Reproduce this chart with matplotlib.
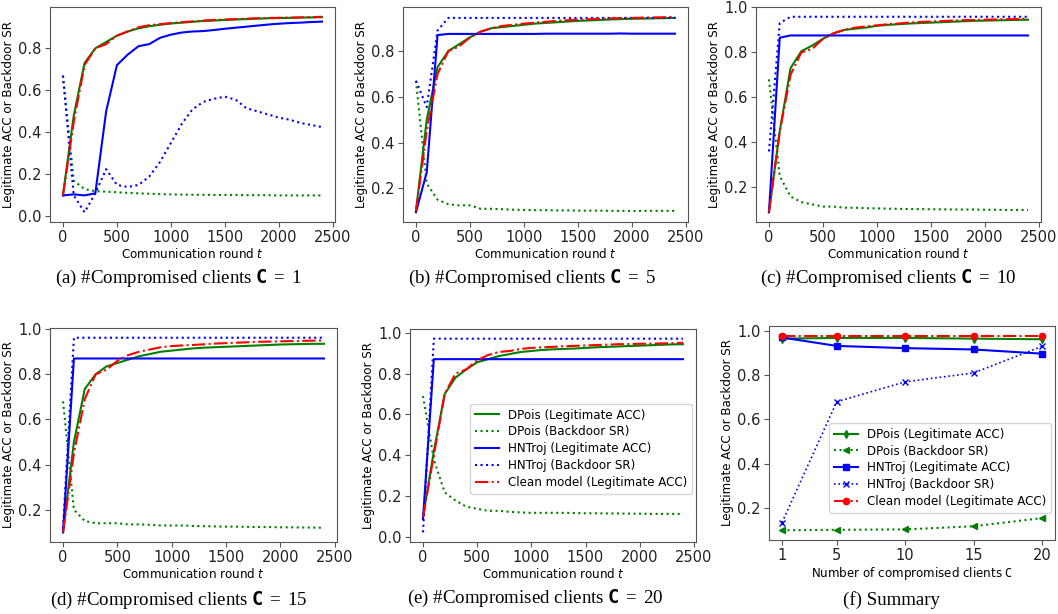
import matplotlib
matplotlib.use("Agg")
from matplotlib import pyplot as plt

plt.rcParams["font.family"] = ["DejaVu Sans"]
plt.rcParams["mathtext.fontset"] = "dejavusans"
plt.rcParams["mathtext.rm"] = "Liberation Serif"
plt.rcParams["mathtext.tt"] = "DejaVu Sans Mono:bold"

W, H = 1058, 614

rounds = [0, 100, 200, 300, 400, 500, 600, 700, 800, 900, 1000, 1100, 1200,
          1300, 1400, 1500, 1600, 1700, 1800, 1900, 2000, 2100, 2200, 2300, 2400]

# (a) C = 1
a_dp_acc = [0.10, 0.48, 0.73, 0.80, 0.83, 0.86, 0.88, 0.895, 0.905, 0.912, 0.918, 0.922, 0.926,
            0.93, 0.932, 0.935, 0.937, 0.939, 0.941, 0.943, 0.944, 0.945, 0.946, 0.947, 0.948]
a_dp_bd = [0.67, 0.17, 0.13, 0.12, 0.118, 0.115, 0.112, 0.11, 0.108, 0.106, 0.105, 0.104, 0.103,
           0.103, 0.102, 0.102, 0.102, 0.101, 0.101, 0.101, 0.10, 0.10, 0.10, 0.10, 0.10]
a_hn_acc = [0.10, 0.105, 0.10, 0.11, 0.50, 0.72, 0.77, 0.81, 0.82, 0.85, 0.865, 0.875, 0.88,
            0.882, 0.887, 0.893, 0.898, 0.903, 0.908, 0.913, 0.917, 0.92, 0.922, 0.925, 0.927]
a_hn_bd = [0.67, 0.10, 0.02, 0.11, 0.225, 0.15, 0.14, 0.15, 0.19, 0.26, 0.35, 0.44, 0.51,
           0.545, 0.56, 0.57, 0.555, 0.515, 0.50, 0.485, 0.47, 0.46, 0.445, 0.435, 0.425]
a_clean = [0.10, 0.45, 0.72, 0.80, 0.82, 0.86, 0.88, 0.90, 0.91, 0.915, 0.92, 0.924, 0.928,
           0.932, 0.935, 0.937, 0.939, 0.941, 0.943, 0.944, 0.945, 0.946, 0.947, 0.948, 0.95]

# (b) C = 5
b_dp_acc = [0.10, 0.50, 0.73, 0.80, 0.83, 0.86, 0.885, 0.90, 0.905, 0.91, 0.915, 0.92, 0.923,
            0.926, 0.929, 0.932, 0.934, 0.936, 0.938, 0.94, 0.941, 0.942, 0.943, 0.944, 0.945]
b_dp_bd = [0.67, 0.22, 0.15, 0.13, 0.125, 0.125, 0.11, 0.11, 0.108, 0.106, 0.105, 0.104, 0.104,
           0.103, 0.103, 0.102, 0.102, 0.102, 0.101, 0.101, 0.10, 0.101, 0.101, 0.101, 0.101]
b_hn_acc = [0.095, 0.27, 0.87, 0.875, 0.875, 0.875, 0.875, 0.875, 0.875, 0.875, 0.875, 0.875, 0.876,
            0.876, 0.876, 0.876, 0.876, 0.876, 0.876, 0.877, 0.876, 0.876, 0.876, 0.876, 0.876]
b_hn_bd = [0.67, 0.555, 0.89, 0.945, 0.945, 0.945, 0.945, 0.945, 0.945, 0.945, 0.945, 0.945, 0.945,
           0.945, 0.945, 0.945, 0.945, 0.945, 0.945, 0.945, 0.945, 0.945, 0.945, 0.945, 0.945]
b_clean = [0.10, 0.45, 0.70, 0.80, 0.82, 0.86, 0.885, 0.90, 0.91, 0.915, 0.92, 0.924, 0.928,
           0.932, 0.935, 0.937, 0.939, 0.941, 0.943, 0.944, 0.945, 0.946, 0.947, 0.948, 0.95]

# (c) C = 10
c_dp_acc = [0.09, 0.45, 0.73, 0.805, 0.83, 0.86, 0.885, 0.90, 0.905, 0.91, 0.918, 0.922, 0.925,
            0.928, 0.93, 0.932, 0.934, 0.936, 0.938, 0.94, 0.941, 0.942, 0.943, 0.944, 0.945]
c_dp_bd = [0.68, 0.25, 0.16, 0.135, 0.125, 0.115, 0.115, 0.11, 0.11, 0.108, 0.107, 0.106, 0.105,
           0.104, 0.104, 0.103, 0.103, 0.102, 0.102, 0.102, 0.101, 0.101, 0.10, 0.10, 0.10]
c_hn_acc = [0.09, 0.865, 0.875, 0.875, 0.875, 0.875, 0.875, 0.875, 0.875, 0.875, 0.875, 0.875, 0.875,
            0.875, 0.875, 0.875, 0.875, 0.875, 0.875, 0.875, 0.875, 0.875, 0.875, 0.875, 0.875]
c_hn_bd = [0.36, 0.93, 0.958, 0.958, 0.958, 0.958, 0.958, 0.958, 0.958, 0.958, 0.958, 0.958, 0.958,
           0.958, 0.958, 0.958, 0.958, 0.958, 0.958, 0.958, 0.958, 0.958, 0.958, 0.958, 0.958]
c_clean = [0.09, 0.45, 0.70, 0.80, 0.815, 0.86, 0.885, 0.90, 0.91, 0.915, 0.92, 0.925, 0.928,
           0.932, 0.935, 0.937, 0.939, 0.941, 0.943, 0.944, 0.945, 0.946, 0.947, 0.948, 0.95]

# (d) C = 15
d_dp_acc = [0.10, 0.50, 0.735, 0.80, 0.835, 0.85, 0.865, 0.88, 0.89, 0.90, 0.905, 0.91, 0.915,
            0.918, 0.92, 0.922, 0.924, 0.926, 0.928, 0.93, 0.932, 0.933, 0.934, 0.935, 0.935]
d_dp_bd = [0.68, 0.20, 0.15, 0.14, 0.14, 0.14, 0.135, 0.135, 0.133, 0.13, 0.13, 0.13, 0.128,
           0.127, 0.126, 0.125, 0.125, 0.124, 0.123, 0.123, 0.122, 0.122, 0.121, 0.121, 0.12]
d_hn_acc = [0.10, 0.87, 0.87, 0.87, 0.87, 0.87, 0.87, 0.87, 0.87, 0.87, 0.87, 0.87, 0.87,
            0.87, 0.87, 0.87, 0.87, 0.87, 0.87, 0.87, 0.87, 0.87, 0.87, 0.87, 0.87]
d_hn_bd = [0.12, 0.962, 0.962, 0.962, 0.962, 0.962, 0.962, 0.962, 0.962, 0.962, 0.962, 0.962, 0.962,
           0.962, 0.962, 0.962, 0.962, 0.962, 0.962, 0.962, 0.962, 0.962, 0.962, 0.962, 0.962]
d_clean = [0.10, 0.45, 0.69, 0.80, 0.82, 0.86, 0.885, 0.90, 0.91, 0.92, 0.925, 0.928, 0.93,
           0.933, 0.936, 0.938, 0.94, 0.942, 0.944, 0.945, 0.946, 0.947, 0.948, 0.949, 0.95]

# (e) C = 20
e_dp_acc = [0.10, 0.42, 0.70, 0.78, 0.82, 0.855, 0.87, 0.885, 0.895, 0.905, 0.91, 0.915, 0.918,
            0.92, 0.922, 0.925, 0.928, 0.93, 0.932, 0.934, 0.936, 0.938, 0.94, 0.942, 0.943]
e_dp_bd = [0.69, 0.38, 0.22, 0.18, 0.15, 0.14, 0.13, 0.13, 0.125, 0.122, 0.12, 0.12, 0.12,
           0.12, 0.119, 0.118, 0.118, 0.117, 0.117, 0.116, 0.116, 0.115, 0.115, 0.115, 0.114]
e_hn_acc = [0.09, 0.87, 0.87, 0.87, 0.87, 0.87, 0.87, 0.87, 0.87, 0.87, 0.87, 0.87, 0.87,
            0.87, 0.87, 0.87, 0.87, 0.87, 0.87, 0.87, 0.87, 0.87, 0.87, 0.87, 0.87]
e_hn_bd = [0.025, 0.97, 0.97, 0.97, 0.97, 0.97, 0.97, 0.97, 0.97, 0.97, 0.97, 0.97, 0.97,
           0.97, 0.97, 0.97, 0.97, 0.97, 0.97, 0.97, 0.97, 0.97, 0.97, 0.97, 0.97]
e_clean = [0.10, 0.40, 0.70, 0.80, 0.82, 0.865, 0.89, 0.905, 0.91, 0.92, 0.925, 0.928, 0.93,
           0.933, 0.935, 0.937, 0.939, 0.941, 0.943, 0.944, 0.945, 0.946, 0.947, 0.948, 0.95]

# (f) summary
n_clients = [1, 5, 10, 15, 20]
f_dp_acc = [0.965, 0.968, 0.968, 0.965, 0.962]
f_dp_bd = [0.10, 0.102, 0.104, 0.118, 0.155]
f_hn_acc = [0.97, 0.932, 0.922, 0.916, 0.897]
f_hn_bd = [0.135, 0.68, 0.77, 0.81, 0.93]
f_clean = [0.978, 0.978, 0.978, 0.978, 0.978]

labels = ["DPois (Legitimate ACC)", "DPois (Backdoor SR)", "HNTroj (Legitimate ACC)",
          "HNTroj (Backdoor SR)", "Clean model (Legitimate ACC)"]

panels = [
    ((50, 7, 335, 222), (a_dp_acc, a_dp_bd, a_hn_acc, a_hn_bd, a_clean),
     "(a) #Compromised clients $\\mathtt{C}\\,=\\,1$", (178, 278)),
    ((403, 7, 688, 222), (b_dp_acc, b_dp_bd, b_hn_acc, b_hn_bd, b_clean),
     "(b) #Compromised clients $\\mathtt{C}\\,=\\,5$", (532, 278)),
    ((756, 7, 1041, 222), (c_dp_acc, c_dp_bd, c_hn_acc, c_hn_bd, c_clean),
     "(c) #Compromised clients $\\mathtt{C}\\,=\\,10$", (888, 278)),
    ((50, 328, 337, 542), (d_dp_acc, d_dp_bd, d_hn_acc, d_hn_bd, d_clean),
     "(d) #Compromised clients $\\mathtt{C}\\,=\\,15$", (179, 600)),
    ((410, 329, 696, 542), (e_dp_acc, e_dp_bd, e_hn_acc, e_hn_bd, e_clean),
     "(e) #Compromised clients $\\mathtt{C}\\,=\\,20$", (535, 598)),
]

styles = [("green", "-"), ("green", ":"), ("blue", "-"), ("blue", ":"), ("red", "-.")]


def box(x0, y0, x1, y1):
    return [x0 / W, 1 - y1 / H, (x1 - x0) / W, (y1 - y0) / H]


def style_axes(ax):
    for s in ax.spines.values():
        s.set_color("#555555")
    ax.tick_params(labelsize=10.5, colors="#222222", color="#555555", pad=2.5)
    ax.set_ylabel("Legitimate ACC or Backdoor SR", fontsize=8.6, labelpad=2)


def add_legend(ax, y):
    ax.legend(loc="lower right", bbox_to_anchor=(1.0, y), fontsize=8.6,
              framealpha=0.8, borderaxespad=0.3, labelspacing=0.32, borderpad=0.4)


fig = plt.figure(figsize=(W / 100, H / 100), dpi=100)

for i, (pos, series, cap, cpos) in enumerate(panels):
    ax = fig.add_axes(box(*pos))
    for ys, (col, ls), lab in zip(series, styles, labels):
        ax.plot(rounds, ys, color=col, linestyle=ls, linewidth=1.5, label=lab)
    style_axes(ax)
    ax.set_xlabel("Communication round $t$", fontsize=8.6, labelpad=1)
    ax.set_xticks([0, 500, 1000, 1500, 2000, 2500])
    if i == 4:
        add_legend(ax, 0.21)
    fig.text(cpos[0] / W, 1 - cpos[1] / H, cap, ha="center", va="center",
             fontsize=13.6, family="Liberation Serif", math_fontfamily="custom")

# summary panel
ax = fig.add_axes(box(769, 326, 1055, 540))
ax.plot(n_clients, f_dp_acc, color="green", linestyle="-", marker="d", markersize=4, linewidth=1.5, label=labels[0])
ax.plot(n_clients, f_dp_bd, color="green", linestyle=":", marker="<", markersize=4, linewidth=1.5, label=labels[1])
ax.plot(n_clients, f_hn_acc, color="blue", linestyle="-", marker="s", markersize=4, linewidth=1.5, label=labels[2])
ax.plot(n_clients, f_hn_bd, color="blue", linestyle=":", marker="x", markersize=4, linewidth=1.2, label=labels[3])
ax.plot(n_clients, f_clean, color="red", linestyle="-.", marker="o", markersize=4.5, linewidth=1.5, label=labels[4])
style_axes(ax)
ax.set_xticks(n_clients)
ax.set_xlabel("Number of compromised clients $\\mathtt{C}$", fontsize=8.6, labelpad=1)
add_legend(ax, 0.11)
fig.text(892 / W, 1 - 600 / H, "(f) Summary", ha="center", va="center",
         fontsize=13.6, family="Liberation Serif")

fig.savefig("out.png", dpi=100)
